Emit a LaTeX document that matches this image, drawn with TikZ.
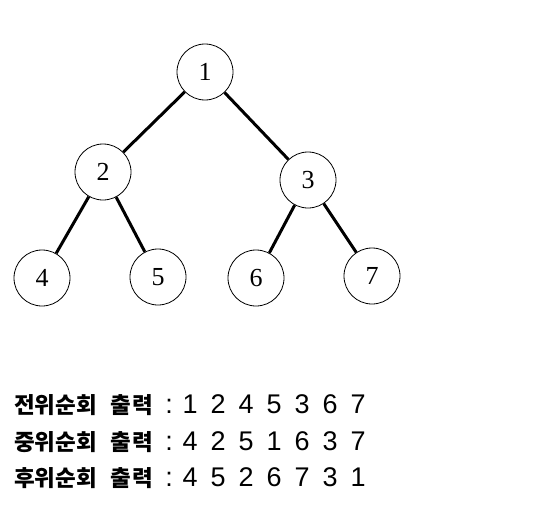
\documentclass[tikz,border=0pt]{standalone}
\usepackage{fontspec}
\newfontfamily\kor{Noto Sans CJK KR}
\newfontfamily\dgfont{Liberation Sans}
\newfontfamily\nodefont{Liberation Serif}
\newcommand\dg[1]{\makebox[28pt]{#1}}
\newcommand\klabel[2]{\makebox[148pt][l]{\kor\bfseries\fontsize{22.5}{26}\selectfont\makebox[96pt][l]{#1}#2}}
\tikzset{
  tnode/.style={circle, draw, line width=0.8pt, minimum size=56pt, inner sep=0pt,
    font=\nodefont\fontsize{26}{30}\selectfont},
  tedge/.style={line width=3pt},
  trav/.style={anchor=base west, inner sep=0pt, font=\dgfont\fontsize{27}{30}\selectfont}
}
\begin{document}
\begin{tikzpicture}[x=1pt,y=-1pt]
\useasboundingbox (0,0) rectangle (559,511);
\node[tnode] (n1) at (205,72) {1};
\node[tnode] (n2) at (103,172) {2};
\node[tnode] (n3) at (308,180) {3};
\node[tnode] (n4) at (42,278) {4};
\node[tnode] (n5) at (158,277) {5};
\node[tnode] (n6) at (256,278) {6};
\node[tnode] (n7) at (372,276) {7};
\draw[tedge] (n1) -- (n2);
\draw[tedge] (n1) -- (n3);
\draw[tedge] (n2) -- (n4);
\draw[tedge] (n2) -- (n5);
\draw[tedge] (n3) -- (n6);
\draw[tedge] (n3) -- (n7);
\node[trav] (l1) at (14,413) {\klabel{전위순회}{출\hspace{2pt}력}\makebox[14pt]{:}\dg{1}\dg{2}\dg{4}\dg{5}\dg{3}\dg{6}\dg{7}};
\node[trav] (l2) at (14,450) {\klabel{중위순회}{출\hspace{2pt}력}\makebox[14pt]{:}\dg{4}\dg{2}\dg{5}\dg{1}\dg{6}\dg{3}\dg{7}};
\node[trav] (l3) at (14,486) {\klabel{후위순회}{출\hspace{2pt}력}\makebox[14pt]{:}\dg{4}\dg{5}\dg{2}\dg{6}\dg{7}\dg{3}\dg{1}};
\end{tikzpicture}
\end{document}
